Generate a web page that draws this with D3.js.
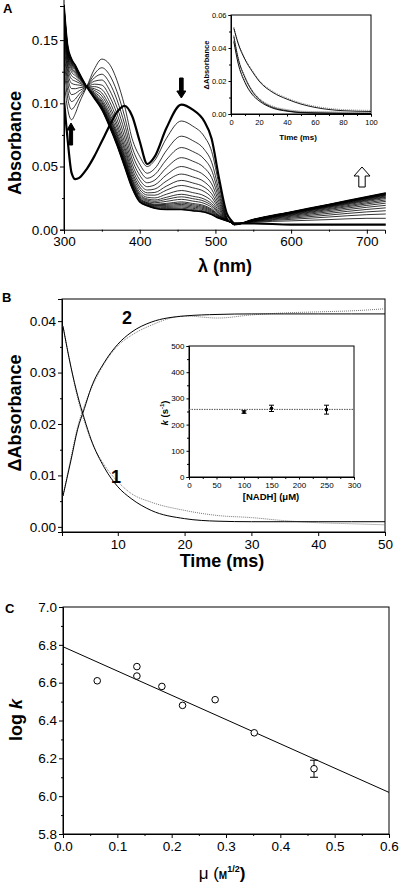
<!DOCTYPE html><html><head><meta charset="utf-8">
<script src="https://cdn.jsdelivr.net/npm/d3@7"></script>
<style>body{margin:0;background:#fff}svg{font-family:"Liberation Sans",Arial,sans-serif}</style></head><body>
<script>
// ---- Panel A data ----
const wl = [300,305,310,315,320,330,340,350,360,370,380,390,400,410,420,435,455,470,485,495,505,515,520,525,550,600,650,700,725];
const specThick = [0.103,0.07,0.045,0.040,0.041,0.048,0.058,0.070,0.082,0.093,0.098,0.090,0.070,0.052,0.058,0.080,0.099,0.095,0.086,0.072,0.040,0.013,0.008,0.005,0.005,0.004,0.004,0.004,0.004];
const specFirst = [0.118,0.095,0.087,0.092,0.100,0.113,0.127,0.135,0.131,0.118,0.098,0.072,0.058,0.050,0.055,0.072,0.086,0.082,0.074,0.062,0.035,0.010,0.006,0.005,0.006,0.007,0.008,0.009,0.009];
const specLast  = [0.178,0.145,0.135,0.130,0.124,0.113,0.104,0.095,0.082,0.067,0.050,0.033,0.022,0.019,0.017,0.016,0.016,0.015,0.014,0.012,0.009,0.007,0.006,0.004,0.008,0.014,0.020,0.026,0.029];
const peak450 = [0.086,0.074,0.065,0.057,0.050,0.044,0.039,0.035,0.031,0.028,0.026,0.024,0.022,0.021,0.020,0.019,0.018,0.017,0.016];
const insetT = [2,5,10,15,20,30,40,50,60,80,100];
const insetS1 = [0.052,0.043,0.033,0.026,0.020,0.013,0.009,0.006,0.004,0.002,0.0015];
const insetS2 = [0.047,0.034,0.022,0.014,0.009,0.004,0.002,0.001,0.0008,0.0005,0.0003];
const insetS3 = [0.044,0.031,0.019,0.012,0.008,0.0035,0.0017,0.0008,0.0005,0.0003,0.0002];
// ---- Panel B data ----
const tB = [1.8,3,4,5,6,8,10,12,15,20,25,30,35,40,45,50];
const fit2 = [0.006,0.013,0.019,0.023,0.027,0.032,0.0355,0.0378,0.0398,0.041,0.0413,0.0414,0.0414,0.0414,0.0414,0.0414];
const obs2 = [0.006,0.0135,0.0195,0.0235,0.0268,0.0318,0.0352,0.0372,0.0392,0.0410,0.0406,0.0412,0.0416,0.0418,0.0420,0.0424];
const fit1 = [0.039,0.031,0.0255,0.021,0.017,0.0115,0.0078,0.0055,0.0032,0.0016,0.0011,0.0010,0.0010,0.0010,0.0010,0.0010];
const obs1 = [0.039,0.031,0.025,0.0205,0.0168,0.012,0.0088,0.0065,0.0048,0.0032,0.0022,0.0018,0.0012,0.0008,0.0006,0.0004];
const nadh = [100,150,250];
const kObs = [248,262,257];
const kErr = [5,12,17];
const kMean = 258;
// ---- Panel C data ----
const mu = [0.063,0.136,0.136,0.182,0.220,0.280,0.352,0.462];
const logk = [6.61,6.685,6.635,6.58,6.48,6.51,6.335,6.145];
const logkErr = [0,0,0,0,0,0,0,0.045];
const fitLine = [[0,6.79],[0.6,6.02]];

const svg = d3.select("body").append("svg").attr("width",400).attr("height",884);
const line = (x,y,xs,ys)=>d3.line().curve(d3.curveMonotoneX)(xs.map((v,i)=>[x(v),y(ys[i])]));
function panelLabel(t,x,y){svg.append("text").attr("x",x).attr("y",y).attr("font-weight","bold").attr("font-size",13).text(t);}
function axes(g,x,y,opt){
  const fs=opt.fs||13;
  const ax=g.append("g").attr("transform",`translate(0,${y.range()[0]})`).call(d3.axisBottom(x).tickValues(opt.xt).tickFormat(opt.xf).tickSize(opt.ts||4).tickPadding(3));
  const ay=g.append("g").attr("transform",`translate(${x.range()[0]},0)`).call(d3.axisLeft(y).tickValues(opt.yt).tickFormat(opt.yf).tickSize(opt.ts||4).tickPadding(2));
  [ax,ay].forEach(a=>{a.selectAll("text").attr("font-size",fs).attr("fill","#000").attr("font-family","Liberation Sans");a.selectAll("line,path").attr("stroke","#000");});
  if(opt.xm) g.append("g").attr("transform",`translate(0,${y.range()[0]})`).call(d3.axisBottom(x).tickValues(opt.xm).tickFormat("").tickSize(2)).select(".domain").remove();
  if(opt.ym) g.append("g").attr("transform",`translate(${x.range()[0]},0)`).call(d3.axisLeft(y).tickValues(opt.ym).tickFormat("").tickSize(2)).select(".domain").remove();
  if(opt.box) g.append("rect").attr("x",x.range()[0]).attr("y",y.range()[1]).attr("width",x.range()[1]-x.range()[0]).attr("height",y.range()[0]-y.range()[1]).attr("fill","none").attr("stroke","#000").attr("stroke-width",1);
}
function arrowPoly(cx,tipY,dir,w,hh,sh,fill){
  const p=[[cx,tipY],[cx-w,tipY-dir*hh],[cx-w/2.5,tipY-dir*hh],[cx-w/2.5,tipY-dir*(hh+sh)],[cx+w/2.5,tipY-dir*(hh+sh)],[cx+w/2.5,tipY-dir*hh],[cx+w,tipY-dir*hh]];
  svg.append("polygon").attr("points",p.join(" ")).attr("fill",fill).attr("stroke","#000").attr("stroke-width",1);
}

// ===== Panel A =====
panelLabel("A",3,13);
const xA=d3.scaleLinear().domain([300,724]).range([64,385]);
const yA=d3.scaleLinear().domain([0,0.177]).range([229.7,6]);
const gA=svg.append("g");
const dA=svg.append("defs");
dA.append("clipPath").attr("id","cA").append("rect").attr("x",64).attr("y",0).attr("width",322).attr("height",232);
const cA=gA.append("g").attr("clip-path","url(#cA)");
peak450.forEach(p=>{
  const f=(p-0.016)/(0.086-0.016);
  const vals=specFirst.map((v,i)=>specLast[i]+f*(v-specLast[i]));
  cA.append("path").attr("d",line(xA,yA,wl,vals)).attr("fill","none").attr("stroke","#000").attr("stroke-width",0.8);
});
cA.append("path").attr("d",line(xA,yA,wl,specLast)).attr("fill","none").attr("stroke","#000").attr("stroke-width",1.6);
cA.append("path").attr("d",line(xA,yA,wl,specThick)).attr("fill","none").attr("stroke","#000").attr("stroke-width",2.2);
gA.append("line").attr("x1",64).attr("x2",64).attr("y1",0).attr("y2",229.7).attr("stroke","#000");
axes(gA,xA,yA,{xt:[300,400,500,600,700],xf:d3.format("d"),yt:[0,0.05,0.10,0.15],yf:d3.format(".2f"),xm:[350,450,550,650],ym:[0.025,0.075,0.125],fs:13.5});
svg.append("text").attr("transform","translate(21,143) rotate(-90)").attr("text-anchor","middle").attr("font-weight","bold").attr("font-size",18).text("Absorbance");
svg.append("text").attr("x",225).attr("y",272).attr("text-anchor","middle").attr("font-weight","bold").attr("font-size",18).text("λ (nm)");
arrowPoly(xA(455),98,1,4.5,7,13,"#000");
arrowPoly(71,123,-1,4,7,15,"#000");
arrowPoly(362,167,-1,8,9,11,"#fff");
// inset A
const xAi=d3.scaleLinear().domain([0,100]).range([231,371]);
const yAi=d3.scaleLinear().domain([0,0.06]).range([114,15]);
const gAi=svg.append("g");
axes(gAi,xAi,yAi,{xt:[0,20,40,60,80,100],xf:d3.format("d"),yt:[0,0.02,0.04,0.06],yf:d3.format(".2f"),xm:[10,30,50,70,90],ym:[0.01,0.03,0.05],fs:7.5,ts:2.5,box:true});
[insetS1,insetS2,insetS3].forEach(s=>{
  gAi.append("path").attr("d",line(xAi,yAi,insetT,s.map(v=>v+0.0007))).attr("fill","none").attr("stroke","#888").attr("stroke-width",1).attr("stroke-dasharray","1,1");
  gAi.append("path").attr("d",line(xAi,yAi,insetT,s)).attr("fill","none").attr("stroke","#000").attr("stroke-width",0.9);
});
svg.append("text").attr("transform","translate(209,65) rotate(-90)").attr("text-anchor","middle").attr("font-weight","bold").attr("font-size",7.5).text("ΔAbsorbance");
svg.append("text").attr("x",298).attr("y",140).attr("text-anchor","middle").attr("font-weight","bold").attr("font-size",8).text("Time (ms)");

// ===== Panel B =====
panelLabel("B",2,302);
const xB=d3.scaleLinear().domain([1.65,50]).range([62,385]);
const yB=d3.scaleLinear().domain([-0.001,0.0443]).range([532,299]);
const gB=svg.append("g");
axes(gB,xB,yB,{xt:[10,20,30,40,50],xf:d3.format("d"),yt:[0,0.01,0.02,0.03,0.04],yf:d3.format(".2f"),ym:[0.005,0.015,0.025,0.035],fs:13.5,box:true});
[[obs2,fit2],[obs1,fit1]].forEach(([o,f])=>{
  gB.append("path").attr("d",line(xB,yB,tB,o)).attr("fill","none").attr("stroke","#777").attr("stroke-width",1).attr("stroke-dasharray","1,1");
  gB.append("path").attr("d",line(xB,yB,tB,f)).attr("fill","none").attr("stroke","#000").attr("stroke-width",1);
});
svg.append("text").attr("x",122).attr("y",324).attr("font-weight","bold").attr("font-size",18).text("2");
svg.append("text").attr("x",111).attr("y",483).attr("font-weight","bold").attr("font-size",18).text("1");
svg.append("text").attr("transform","translate(21,413) rotate(-90)").attr("text-anchor","middle").attr("font-weight","bold").attr("font-size",18).text("ΔAbsorbance");
svg.append("text").attr("x",222).attr("y",567).attr("text-anchor","middle").attr("font-weight","bold").attr("font-size",18).text("Time (ms)");
// inset B
const xBi=d3.scaleLinear().domain([0,300]).range([189,354]);
const yBi=d3.scaleLinear().domain([0,500]).range([477,346]);
const gBi=svg.append("g");
axes(gBi,xBi,yBi,{xt:[0,50,100,150,200,250,300],xf:d3.format("d"),yt:[0,100,200,300,400,500],yf:d3.format("d"),xm:[25,75,125,175,225,275],ym:[50,150,250,350,450],fs:8,ts:2.5,box:true});
gBi.append("line").attr("x1",189).attr("x2",354).attr("y1",yBi(kMean)).attr("y2",yBi(kMean)).attr("stroke","#555").attr("stroke-dasharray","1.5,1");
nadh.forEach((n,i)=>{
  const cx=xBi(n);
  gBi.append("line").attr("x1",cx).attr("x2",cx).attr("y1",yBi(kObs[i]-kErr[i])).attr("y2",yBi(kObs[i]+kErr[i])).attr("stroke","#000");
  [kObs[i]-kErr[i],kObs[i]+kErr[i]].forEach(v=>gBi.append("line").attr("x1",cx-2.5).attr("x2",cx+2.5).attr("y1",yBi(v)).attr("y2",yBi(v)).attr("stroke","#000"));
  gBi.append("circle").attr("cx",cx).attr("cy",yBi(kObs[i])).attr("r",1.8).attr("fill","#000");
});
const kl=svg.append("text").attr("transform","translate(168,413) rotate(-90)").attr("text-anchor","middle").attr("font-weight","bold").attr("font-size",9.5);
kl.append("tspan").attr("font-style","italic").text("k");
kl.append("tspan").text(" (s");kl.append("tspan").attr("font-size",6).attr("dy",-4).text("-1");kl.append("tspan").attr("dy",4).text(")");
svg.append("text").attr("x",271).attr("y",500).attr("text-anchor","middle").attr("font-weight","bold").attr("font-size",9.5).text("[NADH] (μM)");

// ===== Panel C =====
panelLabel("C",5,613);
const xC=d3.scaleLinear().domain([0,0.6]).range([63,389]);
const yC=d3.scaleLinear().domain([5.8,7.0]).range([834,607]);
const gC=svg.append("g");
axes(gC,xC,yC,{xt:[0,0.1,0.2,0.3,0.4,0.5,0.6],xf:d3.format(".1f"),yt:[5.8,6.0,6.2,6.4,6.6,6.8,7.0],yf:d3.format(".1f"),xm:[0.05,0.15,0.25,0.35,0.45,0.55],ym:[5.9,6.1,6.3,6.5,6.7,6.9],fs:13.5,box:true});
gC.append("line").attr("x1",xC(fitLine[0][0])).attr("y1",yC(fitLine[0][1])).attr("x2",xC(fitLine[1][0])).attr("y2",yC(fitLine[1][1])).attr("stroke","#000");
mu.forEach((m,i)=>{
  const cx=xC(m);
  if(logkErr[i]>0){
    gC.append("line").attr("x1",cx).attr("x2",cx).attr("y1",yC(logk[i]-logkErr[i])).attr("y2",yC(logk[i]+logkErr[i])).attr("stroke","#000");
    [logk[i]-logkErr[i],logk[i]+logkErr[i]].forEach(v=>gC.append("line").attr("x1",cx-4).attr("x2",cx+4).attr("y1",yC(v)).attr("y2",yC(v)).attr("stroke","#000"));
  }
  gC.append("circle").attr("cx",cx).attr("cy",yC(logk[i])).attr("r",3.3).attr("fill","#fff").attr("stroke","#000").attr("stroke-width",1);
});
const lk=svg.append("text").attr("transform","translate(22,720) rotate(-90)").attr("text-anchor","middle").attr("font-weight","bold").attr("font-size",18);
lk.append("tspan").text("log ");lk.append("tspan").attr("font-style","italic").text("k");
const mt=svg.append("text").attr("x",222).attr("y",879).attr("text-anchor","middle").attr("font-size",17);
mt.append("tspan").text("μ (");mt.append("tspan").attr("font-size",10).attr("font-weight","bold").text("M");
mt.append("tspan").attr("font-size",9).attr("font-weight","bold").attr("dy",-7).text("1/2");
mt.append("tspan").attr("dy",7).attr("font-weight","bold").text(")");
</script></body></html>
